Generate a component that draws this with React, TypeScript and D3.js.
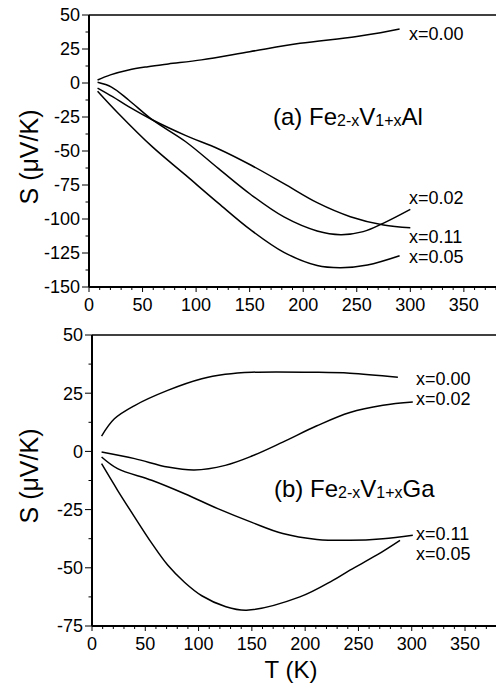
import React from "react";
import * as d3 from "d3";

// temperature axis
const xTicks = [0, 50, 100, 150, 200, 250, 300, 350];
const topYTicks = [50, 25, 0, -25, -50, -75, -100, -125, -150];
const bottomYTicks = [50, 25, 0, -25, -50, -75];

// (a) Fe2-xV1+xAl
const a00T = [8, 20, 37, 55, 74, 105, 150, 197, 250, 290];
const a00S = [2.2, 6, 9.6, 12, 14, 17, 23, 29.2, 34.2, 39.7];
const a02T = [8, 21, 37, 59, 90, 121, 151, 182, 213, 235, 256, 275, 300];
const a02S = [0.5, -3, -12.5, -27, -43, -63, -82, -98.5, -108.8, -111.5, -109.3, -103, -92.9];
const a11T = [8, 22, 37, 59, 90, 121, 151, 182, 213, 244, 275, 300];
const a11S = [-3.7, -10, -17.4, -27, -38.5, -48.5, -60.3, -74, -88, -98.3, -104.4, -106.4];
const a05T = [8, 27, 59, 90, 121, 151, 182, 213, 235, 260, 290];
const a05S = [-6, -22, -46.8, -67.6, -88.5, -108, -124.5, -134.2, -135.8, -133.8, -127];

// (b) Fe2-xV1+xGa
const b00T = [9, 21, 40, 71, 103, 125, 150, 210, 242, 287];
const b00S = [6.6, 14, 19.7, 26.2, 31.2, 33.1, 34, 34, 33.6, 31.9];
const b02T = [9, 40, 71, 96, 125, 150, 179, 211, 242, 273, 301];
const b02S = [-0.3, -3.1, -6.7, -8, -6, -2, 4, 11, 16.7, 19.8, 21.2];
const b11T = [9, 24, 56, 87, 118, 150, 179, 211, 242, 273, 301];
const b11S = [-2.4, -7.4, -12.4, -18.2, -24.6, -30.5, -35.3, -37.8, -38.2, -37.5, -36];
const b05T = [9, 24, 40, 56, 71, 87, 103, 125, 145, 195, 226, 242, 267, 289];
const b05S = [-5.3, -16.7, -28.2, -39.4, -48.8, -56.3, -62, -66.6, -68.2, -62.5, -55.4, -51, -44.6, -38.2];

const font = "'Liberation Sans', Arial, Helvetica, sans-serif";

function zip(t, s) {
  return t.map((v, i) => [v, s[i]]);
}

function Panel({ left, right, top, bottom, yMin, yMax, yTicks, series, labels, title, titleX, titleY, ylabelY }) {
  const x = d3.scaleLinear().domain([0, 380]).range([left, right]);
  const y = d3.scaleLinear().domain([yMin, yMax]).range([bottom, top]);
  const line = d3.line().x(d => x(d[0])).y(d => y(d[1])).curve(d3.curveCatmullRom.alpha(0.5));
  const xMinor = d3.range(0, 381, 10);
  const yMinor = d3.range(yMin, yMax + 0.1, 12.5);

  return (
    <g>
      {/* frame */}
      <line x1={left} x2={right} y1={top} y2={top} stroke="#000" strokeWidth={1.3} />
      <line x1={left} x2={left} y1={top} y2={bottom} stroke="#000" strokeWidth={2} />
      <line x1={left} x2={right} y1={bottom} y2={bottom} stroke="#000" strokeWidth={2} />

      {xMinor.map(t => (
        <line key={"xm" + t} x1={x(t)} x2={x(t)} y1={bottom} y2={bottom + (t % 50 === 0 ? 5 : 3)} stroke="#000" strokeWidth={1} />
      ))}
      {xTicks.map(t => (
        <text key={"xt" + t} x={x(t)} y={bottom + 24} textAnchor="middle" fontSize={18} fontFamily={font}>{t}</text>
      ))}

      {yMinor.map(v => (
        <line key={"ym" + v} x1={left} x2={left - (v % 25 === 0 ? 7 : 3.5)} y1={y(v)} y2={y(v)} stroke="#000" strokeWidth={1} />
      ))}
      {yTicks.map(v => (
        <text key={"yt" + v} x={left - 9} y={y(v)} dy="0.36em" textAnchor="end" fontSize={18} fontFamily={font}>{v}</text>
      ))}

      <text transform={`translate(38,${ylabelY}) rotate(-90)`} textAnchor="middle" fontSize={25} fontFamily={font}>S (μV/K)</text>

      {series.map((s, i) => (
        <path key={i} d={line(s)} fill="none" stroke="#000" strokeWidth={1.5} />
      ))}

      {labels.map((l, i) => (
        <text key={"l" + i} x={l[0]} y={l[1]} fontSize={18} fontFamily={font}>{l[2]}</text>
      ))}

      <text x={titleX} y={titleY} fontSize={24} fontFamily={font}>
        {title[0]}
        <tspan fontSize={16} dy={1}>2-x</tspan>
        <tspan dy={-1}>V</tspan>
        <tspan fontSize={16} dy={1}>1+x</tspan>
        <tspan dy={-1}>{title[1]}</tspan>
      </text>
    </g>
  );
}

export default function App() {
  return (
    <div style={{ position: "absolute", left: 0, top: 0 }}>
      <svg width={496} height={685} style={{ display: "block", background: "#fff" }}>
        <Panel
          left={89} right={496} top={15} bottom={287}
          yMin={-150} yMax={50} yTicks={topYTicks}
          series={[zip(a00T, a00S), zip(a02T, a02S), zip(a11T, a11S), zip(a05T, a05S)]}
          labels={[[409, 40, "x=0.00"], [409, 204, "x=0.02"], [409, 243, "x=0.11"], [409, 263, "x=0.05"]]}
          title={["(a) Fe", "Al"]} titleX={273} titleY={125} ylabelY={157}
        />
        <Panel
          left={92} right={497} top={335} bottom={626}
          yMin={-75} yMax={50} yTicks={bottomYTicks}
          series={[zip(b00T, b00S), zip(b02T, b02S), zip(b11T, b11S), zip(b05T, b05S)]}
          labels={[[416, 385, "x=0.00"], [416, 405, "x=0.02"], [416, 540, "x=0.11"], [416, 560, "x=0.05"]]}
          title={["(b) Fe", "Ga"]} titleX={274} titleY={497} ylabelY={476}
        />
        <text x={291} y={678} textAnchor="middle" fontSize={24} fontFamily={font}>T (K)</text>
      </svg>
    </div>
  );
}
